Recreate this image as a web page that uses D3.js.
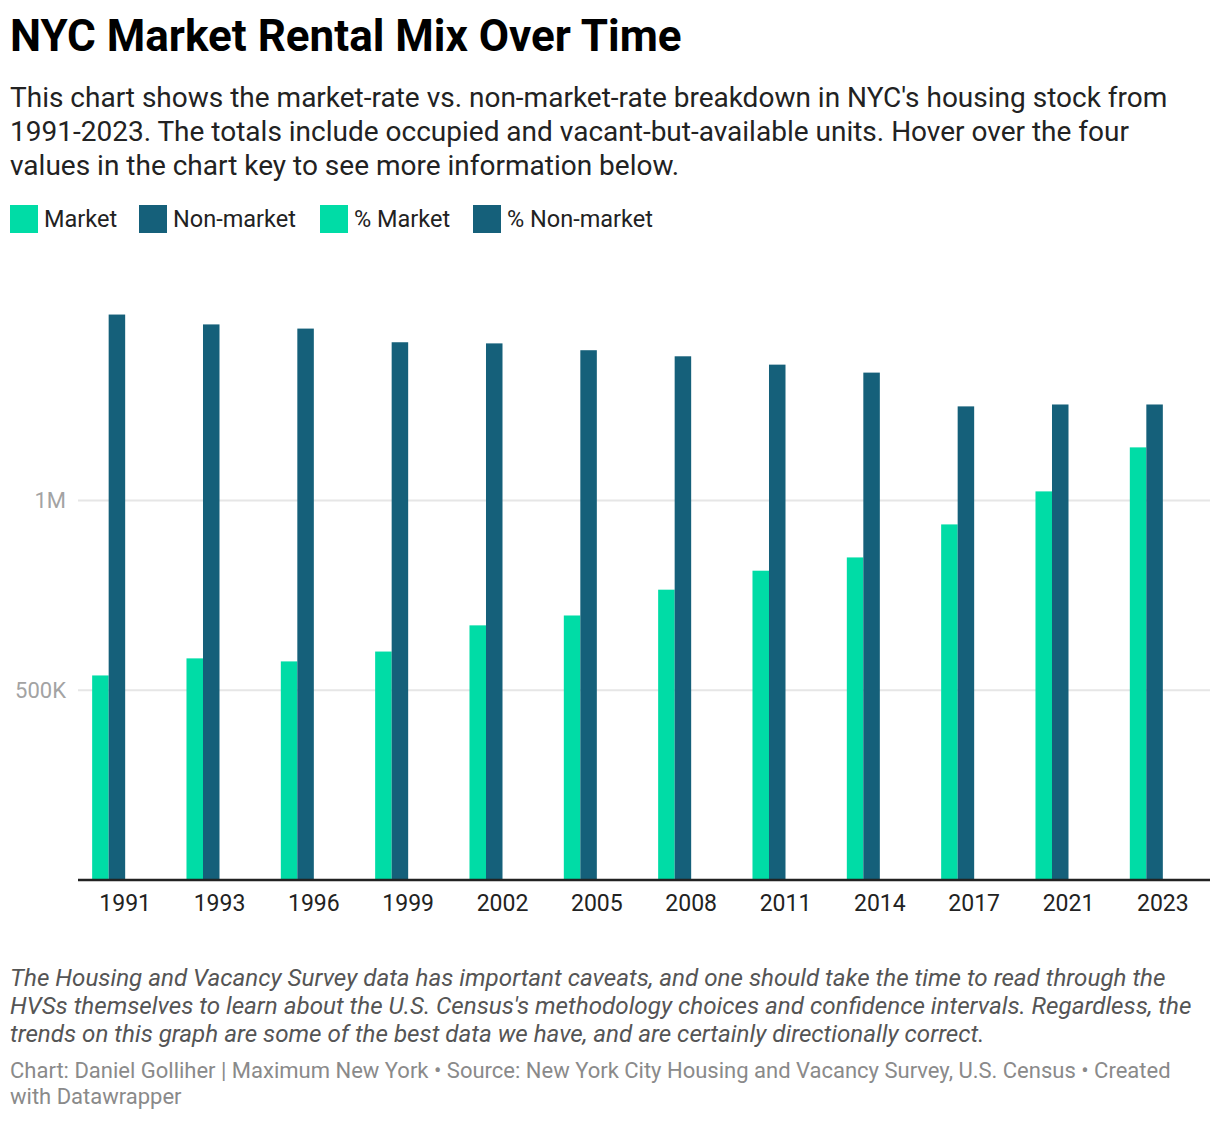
<!DOCTYPE html>
<html>
<head>
<meta charset="utf-8">
<script src="https://cdn.jsdelivr.net/npm/d3@7"></script>
<style>
  body { margin: 0; background: #fff; font-family: Roboto, sans-serif; }
  svg text { font-family: Roboto, sans-serif; }
</style>
</head>
<body>
<svg id="chart" width="1220" height="1122"></svg>
<script>
// data
var years = ['1991', '1993', '1996', '1999', '2002', '2005', '2008', '2011', '2014', '2017', '2021', '2023'];
var market = [539000, 584000, 576000, 602000, 671000, 697000, 765000, 815000, 850000, 937000, 1024000, 1140000];
var nonMarket = [1490000, 1464000, 1453000, 1417000, 1414000, 1396000, 1380000, 1358000, 1337000, 1248000, 1253000, 1253000];
var seriesNames = ['Market', 'Non-market', '% Market', '% Non-market'];
var seriesColors = ['#00dca6', '#15607a', '#00dca6', '#15607a'];
var yTicks = [500000, 1000000];
var yTickLabels = ['500K', '1M'];

var subtitle = [
  "This chart shows the market-rate vs. non-market-rate breakdown in NYC's housing stock from",
  "1991-2023. The totals include occupied and vacant-but-available units. Hover over the four",
  "values in the chart key to see more information below."
];
var notes = [
  "The Housing and Vacancy Survey data has important caveats, and one should take the time to read through the",
  "HVSs themselves to learn about the U.S. Census's methodology choices and confidence intervals. Regardless, the",
  "trends on this graph are some of the best data we have, and are certainly directionally correct."
];
var source = [
  "Chart: Daniel Golliher | Maximum New York \u2022 Source: New York City Housing and Vacancy Survey, U.S. Census \u2022 Created",
  "with Datawrapper"
];

var svg = d3.select('#chart');

// header
svg.append('text')
  .attr('x', 10).attr('y', 51)
  .attr('font-size', 44).attr('font-weight', 700).attr('fill', '#000')
  .text('NYC Market Rental Mix Over Time');

svg.append('g').selectAll('text')
  .data(subtitle)
  .enter().append('text')
  .attr('x', 10)
  .attr('y', (d, i) => 107 + i * 34)
  .attr('font-size', 28).attr('fill', '#222')
  .text(d => d);

// legend
var legendX = [10, 139, 320, 473];
var legend = svg.append('g').selectAll('g')
  .data(seriesNames)
  .enter().append('g')
  .attr('transform', (d, i) => 'translate(' + legendX[i] + ',205)');
legend.append('rect')
  .attr('width', 28).attr('height', 28)
  .attr('fill', (d, i) => seriesColors[i]);
legend.append('text')
  .attr('x', 34).attr('y', 22)
  .attr('font-size', 23.5).attr('fill', '#222')
  .text(d => d);

// scales
var x0 = d3.scaleBand().domain(years).range([78, 1210]).paddingInner(0.3).paddingOuter(0.15);
var x1 = d3.scaleBand().domain(seriesNames).range([0, x0.bandwidth()]);
var y = d3.scaleLinear().domain([0, 1500000]).range([880, 310.75]);

// gridlines + y labels
var grid = svg.append('g');
grid.selectAll('line')
  .data(yTicks)
  .enter().append('line')
  .attr('x1', 78).attr('x2', 1210)
  .attr('y1', d => y(d)).attr('y2', d => y(d))
  .attr('stroke', '#e6e6e6').attr('stroke-width', 2);
grid.selectAll('text')
  .data(yTicks)
  .enter().append('text')
  .attr('x', 66).attr('y', d => y(d))
  .attr('dy', '0.35em')
  .attr('text-anchor', 'end')
  .attr('font-size', 22).attr('fill', '#a3a3a3')
  .text((d, i) => yTickLabels[i]);

// bars
var rows = years.map((yr, i) => ({ year: yr, values: [market[i], nonMarket[i]] }));
var groups = svg.append('g').selectAll('g')
  .data(rows)
  .enter().append('g')
  .attr('transform', d => 'translate(' + x0(d.year) + ',0)');
groups.selectAll('rect')
  .data(d => d.values.map((v, j) => ({ key: seriesNames[j], value: v, color: seriesColors[j] })))
  .enter().append('rect')
  .attr('x', d => x1(d.key))
  .attr('width', x1.bandwidth())
  .attr('y', d => y(d.value))
  .attr('height', d => y(0) - y(d.value))
  .attr('fill', d => d.color);

// x axis
var xAxis = svg.append('g')
  .attr('transform', 'translate(0,' + y(0) + ')')
  .call(d3.axisBottom(x0).tickSize(0).tickPadding(15));
xAxis.select('.domain').attr('stroke', '#222').attr('stroke-width', 2.5).attr('d', 'M78,0H1210');
xAxis.selectAll('text').attr('font-size', 23).attr('fill', '#222').attr('font-family', 'Roboto, sans-serif');

// notes + source
svg.append('g').selectAll('text')
  .data(notes)
  .enter().append('text')
  .attr('x', 10)
  .attr('y', (d, i) => 986 + i * 28)
  .attr('font-size', 24.2).attr('font-style', 'italic').attr('fill', '#555')
  .text(d => d);

svg.append('g').selectAll('text')
  .data(source)
  .enter().append('text')
  .attr('x', 10)
  .attr('y', (d, i) => 1078 + i * 26)
  .attr('font-size', 22).attr('fill', '#8a8a8a')
  .text(d => d);
</script>
</body>
</html>
